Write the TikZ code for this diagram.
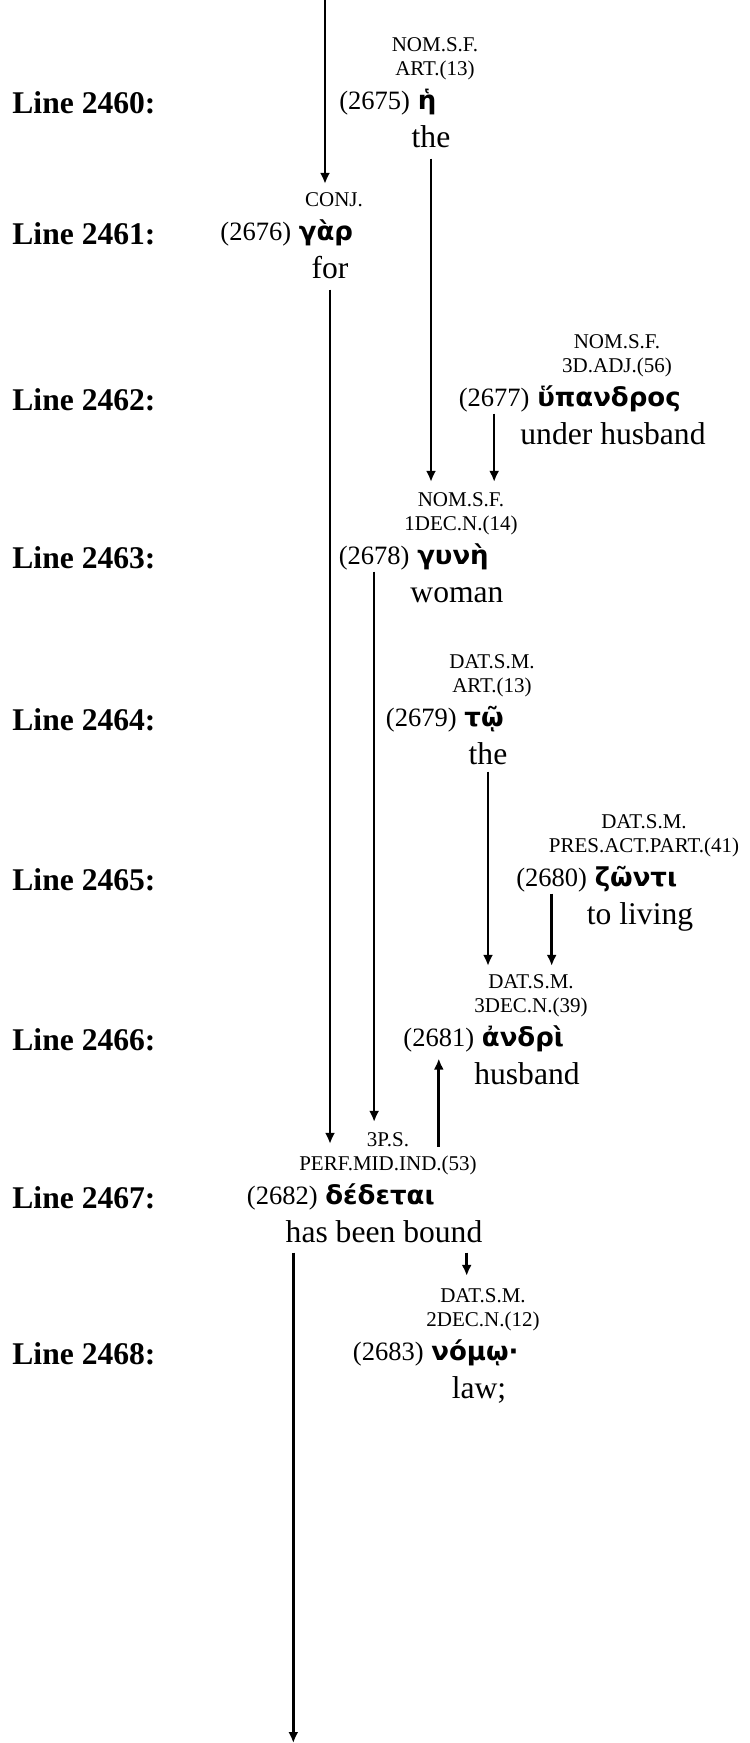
\documentclass[tikz,border=0pt]{standalone}
\usepackage{fontspec}
\setmainfont{Liberation Serif}
\newfontfamily\greekfont{DejaVu Sans}
\usepackage{tikz}
\usetikzlibrary{arrows.meta,positioning,calc}

\begin{document}
\begin{tikzpicture}[x=0.5pt, y=-0.5pt,
  lineno/.style={anchor=west, inner sep=0pt, font=\fontsize{15.8}{18}\selectfont\bfseries},
  word/.style={inner sep=0pt, text height=9.5pt, text depth=3pt,
               font=\fontsize{13}{15}\selectfont\greekfont\bfseries},
  num/.style={inner sep=0pt, font=\fontsize{13.25}{15}\selectfont},
  gloss/.style={inner sep=0pt, text height=11pt, text depth=3.5pt, xshift=2pt,
                font=\fontsize{15.8}{18}\selectfont},
  tag/.style={inner sep=0pt, align=center, text depth=2.5pt, xshift=4pt,
              font=\fontsize{10.5}{12}\selectfont},
  arr/.style={-{Latex[length=5.5pt,width=5pt]}, line width=1.3pt,
              shorten <=2pt, shorten >=5pt}]

\useasboundingbox (0,0) rectangle (749,1743);

\node[lineno] (l2460) at (12,103)  {Line 2460:};
\node[lineno] (l2461) at (12,234)  {Line 2461:};
\node[lineno] (l2462) at (12,400)  {Line 2462:};
\node[lineno] (l2463) at (12,558)  {Line 2463:};
\node[lineno] (l2464) at (12,720)  {Line 2464:};
\node[lineno] (l2465) at (12,880)  {Line 2465:};
\node[lineno] (l2466) at (12,1040) {Line 2466:};
\node[lineno] (l2467) at (12,1198) {Line 2467:};
\node[lineno] (l2468) at (12,1354) {Line 2468:};

\node[word] (g2675) at (427,103) {ἡ};
\node[num, base left=3.5pt of g2675] (n2675) {(2675)};
\node[tag, above=4.75pt of g2675] (t2675) {NOM.S.F.\\ART.(13)};
\node[gloss, below=4.5pt of g2675] (e2675) {the};

\node[word] (g2676) at (326,234) {γὰρ};
\node[num, base left=3.5pt of g2676] (n2676) {(2676)};
\node[tag, above=4.75pt of g2676] (t2676) {CONJ.};
\node[gloss, below=4.5pt of g2676] (e2676) {for};

\node[word] (g2677) at (609,400) {ὕπανδρος};
\node[num, base left=3.5pt of g2677] (n2677) {(2677)};
\node[tag, above=4.75pt of g2677] (t2677) {NOM.S.F.\\3D.ADJ.(56)};
\node[gloss, below=4.5pt of g2677] (e2677) {under husband};

\node[word] (g2678) at (453,558) {γυνὴ};
\node[num, base left=3.5pt of g2678] (n2678) {(2678)};
\node[tag, above=4.75pt of g2678] (t2678) {NOM.S.F.\\1DEC.N.(14)};
\node[gloss, below=4.5pt of g2678] (e2678) {woman};

\node[word] (g2679) at (484,720) {τῷ};
\node[num, base left=3.5pt of g2679] (n2679) {(2679)};
\node[tag, above=4.75pt of g2679] (t2679) {DAT.S.M.\\ART.(13)};
\node[gloss, below=4.5pt of g2679] (e2679) {the};

\node[word] (g2680) at (636,880) {ζῶντι};
\node[num, base left=3.5pt of g2680] (n2680) {(2680)};
\node[tag, above=4.75pt of g2680] (t2680) {DAT.S.M.\\PRES.ACT.PART.(41)};
\node[gloss, below=4.5pt of g2680] (e2680) {to living};

\node[word] (g2681) at (523,1040) {ἀνδρὶ};
\node[num, base left=3.5pt of g2681] (n2681) {(2681)};
\node[tag, above=4.75pt of g2681] (t2681) {DAT.S.M.\\3DEC.N.(39)};
\node[gloss, below=4.5pt of g2681] (e2681) {husband};

\node[word] (g2682) at (380,1198) {δέδεται};
\node[num, base left=3.5pt of g2682] (n2682) {(2682)};
\node[tag, above=4.75pt of g2682] (t2682) {3P.S.\\PERF.MID.IND.(53)};
\node[gloss, below=4.5pt of g2682] (e2682) {has been bound};

\node[word] (g2683) at (475,1354) {νόμῳ·};
\node[num, base left=3.5pt of g2683] (n2683) {(2683)};
\node[tag, above=4.75pt of g2683] (t2683) {DAT.S.M.\\2DEC.N.(12)};
\node[gloss, below=4.5pt of g2683] (e2683) {law;};

\coordinate (top) at (325,0);
\coordinate (bottom) at (0,1743);
\coordinate (t2682b) at ($(t2682.north)+(0,-12pt)$);
\coordinate (b2682r) at ($(e2682.south east)+(-8pt,0)$);
\coordinate (b2682l) at ($(e2682.south west)+(4pt,0)$);

\draw[arr, shorten <=0pt, shorten >=4pt] (top) -- (top |- t2676.north);
\draw[arr] (e2675.south) -- (e2675.south |- t2678.north);
\draw[arr, shorten <=0.5pt] (n2677.south) -- (n2677.south |- t2678.north);
\draw[arr, shorten >=6pt] (e2676.south) -- (e2676.south |- t2682b);
\draw[arr, shorten <=0.5pt] (n2678.south) -- (n2678.south |- t2682.north);
\draw[arr, shorten <=0pt, shorten >=4pt] (e2679.south) -- (e2679.south |- t2681.north);
\draw[arr, shorten <=0.5pt, shorten >=4pt] (n2680.south) -- (n2680.south |- t2681.north);
\draw[arr, shorten <=4.5pt, shorten >=3pt] (n2681.south |- t2682b) -- (n2681.south);
\draw[arr, shorten <=1.5pt, shorten >=6pt] (b2682r) -- (b2682r |- t2683.north);
\draw[arr, shorten <=1.5pt, shorten >=0pt] (b2682l) -- (b2682l |- bottom);
\end{tikzpicture}
\end{document}
